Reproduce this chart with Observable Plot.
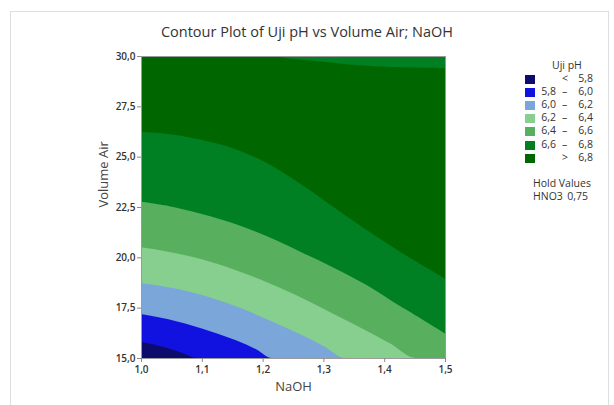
<!DOCTYPE html>
<html><head><meta charset="utf-8">
<script src="https://cdn.jsdelivr.net/npm/d3@7"></script>
<script src="https://cdn.jsdelivr.net/npm/@observablehq/plot@0.6"></script>
<style>
body{margin:0;background:#fff;font-family:"Open Sans",sans-serif;}
#wrap{position:relative;width:614px;height:405px;overflow:hidden;}
#border{position:absolute;left:10px;top:11px;width:599px;height:430px;border:1px solid #dedede;box-sizing:border-box;}
#title{position:relative;height:46px;width:614px;text-align:center;font-size:14.5px;color:#333;line-height:18px;padding-top:23px;box-sizing:border-box;}
#chart{position:relative;}
#legend{position:absolute;left:0;top:0;width:614px;height:405px;pointer-events:none;font-size:10.5px;color:#333;}
#legend div{position:absolute;white-space:nowrap;}
</style></head>
<body>
<div id="wrap">
<div id="border"></div>
<div id="title">Contour Plot of Uji pH vs Volume Air; NaOH</div>
<div id="chart"></div>
<div id="legend"></div>
</div>
<script>
// ---- data ----
const naohDomain = [1.0, 1.5];
const airDomain = [15, 30];
const naohTicks = [1.0, 1.1, 1.2, 1.3, 1.4, 1.5];
const airTicks = [15, 17.5, 20, 22.5, 25, 27.5, 30];
const thresholds = [5.8, 6.0, 6.2, 6.4, 6.6, 6.8];
const bandColors = ["#0c0c6c", "#1212e0", "#7ba6da", "#86cf8e", "#58b05e", "#008022", "#006600"];

// contour boundaries (NaOH, Volume Air), clipped to the plotted frame
const c58Naoh = [1.0, 1.045, 1.072, 1.092, 1.5];
const c58Air  = [15.81, 15.48, 15.2, 15.0, 15.0];
const c60Naoh = [1.0, 1.045, 1.1, 1.155, 1.19, 1.215, 1.5];
const c60Air  = [17.18, 16.92, 16.47, 15.89, 15.42, 15.0, 15.0];
const c62Naoh = [1.0, 1.045, 1.1, 1.155, 1.209, 1.253, 1.3, 1.336, 1.5];
const c62Air  = [18.71, 18.51, 18.13, 17.58, 16.9, 16.3, 15.6, 15.0, 15.0];
const c64Naoh = [1.0, 1.045, 1.1, 1.155, 1.209, 1.253, 1.3, 1.355, 1.41, 1.452, 1.5];
const c64Air  = [20.5, 20.28, 19.9, 19.37, 18.74, 18.15, 17.45, 16.6, 15.72, 15.0, 15.0];
const c66Naoh = [1.0, 1.045, 1.1, 1.155, 1.209, 1.262, 1.316, 1.371, 1.41, 1.464, 1.5];
const c66Air  = [22.76, 22.55, 22.15, 21.65, 21.02, 20.28, 19.5, 18.62, 17.88, 16.89, 16.22];
const c68Naoh = [1.0, 1.044, 1.097, 1.152, 1.207, 1.262, 1.316, 1.371, 1.426, 1.481, 1.5];
const c68Air  = [26.21, 26.13, 25.85, 25.4, 24.68, 23.65, 22.51, 21.36, 20.28, 19.28, 18.93];
const c68TopNaoh = [1.217, 1.252, 1.299, 1.355, 1.41, 1.5];
const c68TopAir  = [30.0, 29.85, 29.72, 29.55, 29.45, 29.39];

const holdFactor = "HNO3";
const holdValue = "0,75";
const legendTitle = "Uji pH";

// ---- build ----
const fmt = d => d.toFixed(1).replace(".", ",");
const toPts = (xs, ys) => xs.map((x, i) => ({x, y: ys[i]}));
const boundaries = [
  toPts(c58Naoh, c58Air), toPts(c60Naoh, c60Air), toPts(c62Naoh, c62Air),
  toPts(c64Naoh, c64Air), toPts(c66Naoh, c66Air), toPts(c68Naoh, c68Air)
];
const curves = ["monotone-x", "monotone-x", "monotone-x", "monotone-x", "catmull-rom", "catmull-rom"];
const top68 = toPts(c68TopNaoh, c68TopAir);

const bandMarks = boundaries.map((pts, i) =>
  Plot.areaY(pts, {x: "x", y1: "y", y2: () => airDomain[1], fill: bandColors[i + 1], curve: curves[i], clip: true})
);

const chart = Plot.plot({
  width: 614, height: 359,
  marginLeft: 141, marginRight: 169, marginTop: 10, marginBottom: 47,
  x: {domain: naohDomain},
  y: {domain: airDomain},
  style: {fontFamily: "Open Sans, sans-serif", fontSize: "10px", color: "#333", background: "transparent"},
  marks: [
    Plot.frame({fill: bandColors[0]}),
    ...bandMarks,
    Plot.areaY(top68, {x: "x", y1: "y", y2: () => airDomain[1], fill: bandColors[5], curve: "catmull-rom", clip: true}),
    Plot.frame({stroke: "#9a9a9a"}),
    Plot.axisX({ticks: naohTicks, tickFormat: fmt, tickSize: 4, tickPadding: 3, label: null, stroke: "#888", fontWeight: 600}),
    Plot.axisY({ticks: airTicks, tickFormat: fmt, tickSize: 4, tickPadding: 2, label: null, stroke: "#888", fontWeight: 600}),
    Plot.text(["NaOH"], {frameAnchor: "bottom", dy: 32, fontSize: 13, fill: "#444"}),
    Plot.text(["Volume Air"], {frameAnchor: "left", dx: -38, rotate: -90, fontSize: 13, fill: "#444"})
  ]
});
document.getElementById("chart").appendChild(chart);

// legend
const lg = document.getElementById("legend");
function addDiv(html, css) { const d = document.createElement("div"); d.innerHTML = html; Object.assign(d.style, css); lg.appendChild(d); }
addDiv(legendTitle, {left: "552px", top: "58px"});
const n = bandColors.length;
for (let i = 0; i < n; i++) {
  const top = 75 + i * 13.1;
  addDiv("", {left: "525px", top: top + "px", width: "10px", height: "9px", background: bandColors[i]});
  let low = "", sym = "", high = "";
  if (i === 0) { sym = "&lt;"; high = fmt(thresholds[0]); }
  else if (i === n - 1) { sym = "&gt;"; high = fmt(thresholds[n - 2]); }
  else { low = fmt(thresholds[i - 1]); sym = "–"; high = fmt(thresholds[i]); }
  const ty = (top - 4) + "px";
  if (low) addDiv(low, {right: (614 - 556) + "px", top: ty});
  addDiv(sym, {left: "562px", top: ty});
  addDiv(high, {right: (614 - 593) + "px", top: ty});
}
addDiv("Hold Values", {left: "533px", top: "176px"});
addDiv(holdFactor, {left: "533px", top: "189px"});
addDiv(holdValue, {right: (614 - 588) + "px", top: "189px"});
</script>
</body></html>
